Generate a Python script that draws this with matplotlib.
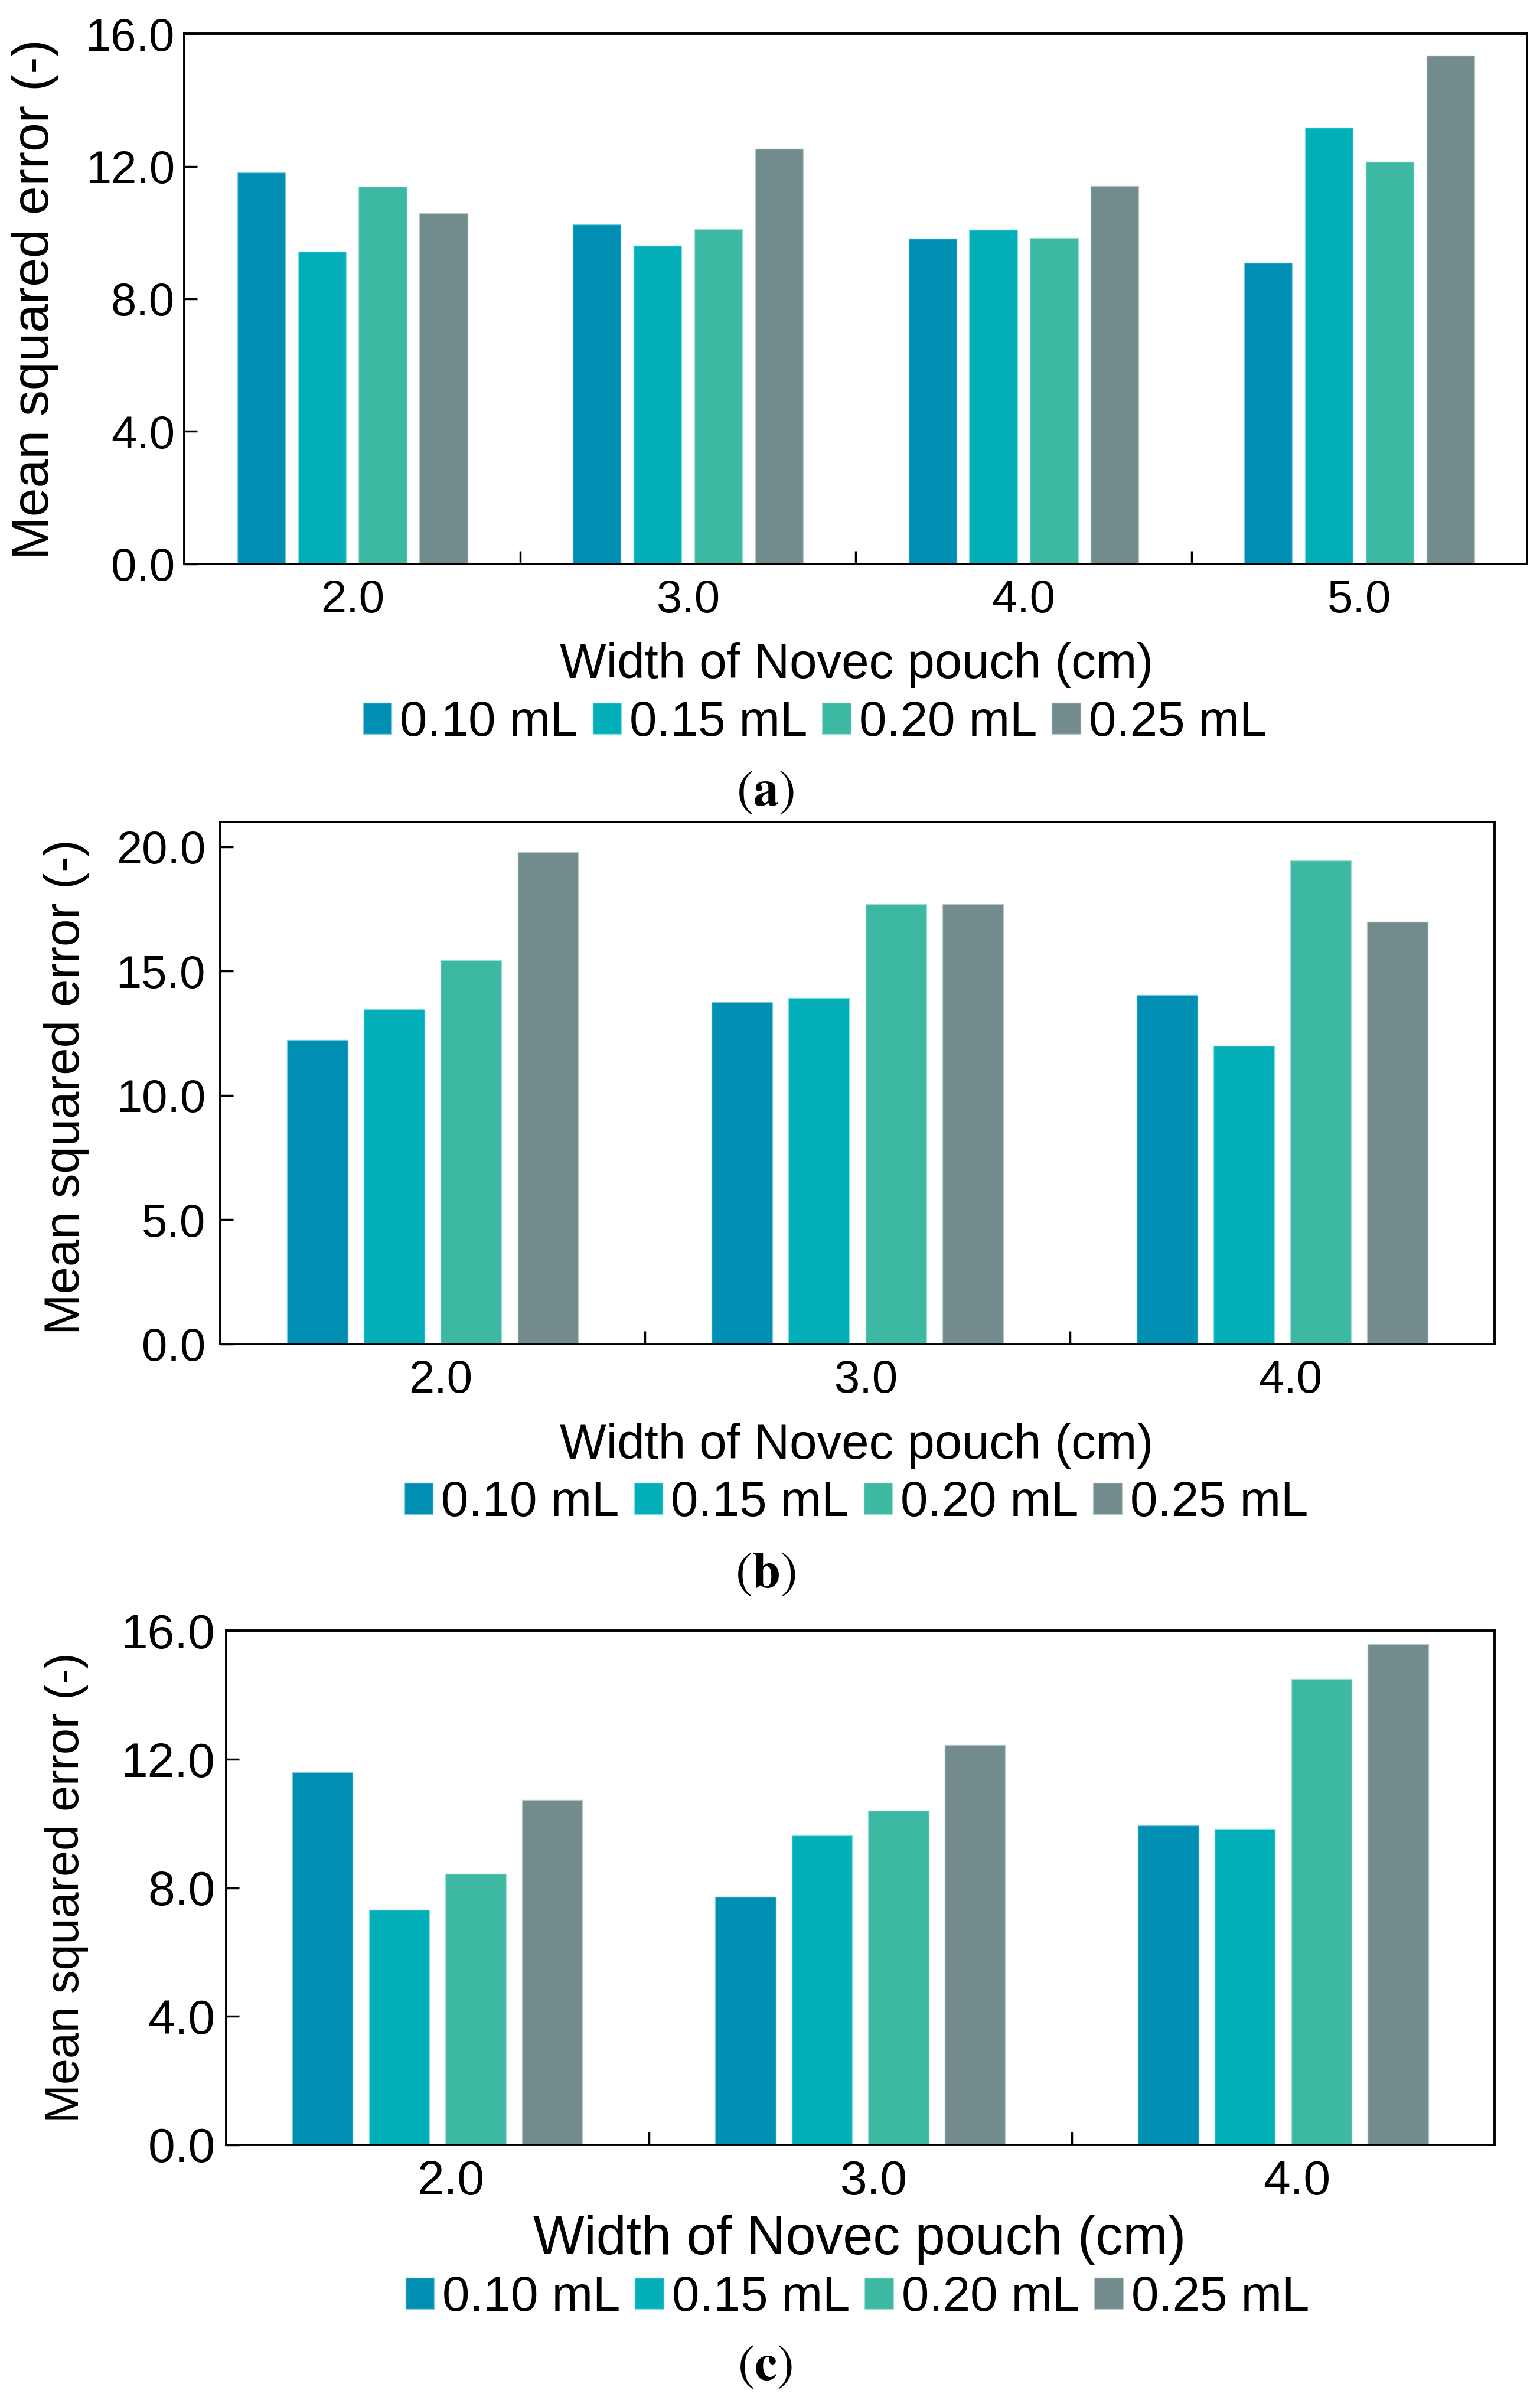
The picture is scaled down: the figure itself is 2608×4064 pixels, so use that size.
import numpy as np
import matplotlib
matplotlib.use('Agg')
import matplotlib.pyplot as plt
import matplotlib.transforms as mtransforms
from matplotlib.patches import Patch

plt.rcParams['font.family'] = ['Liberation Sans', 'DejaVu Sans']
plt.rcParams['mathtext.fontset'] = 'stix'

# données
volumes = ['0.10 mL', '0.15 mL', '0.20 mL', '0.25 mL']
colors = ['#008FB2', '#02AFB8', '#3DB8A2', '#728C8D']
edge_colors = ['#7FCCE0', '#7FE0E6', '#9EE0D0', '#B8C8C8']

widths_a = ['2.0', '3.0', '4.0', '5.0']
mse_a = [[11.82, 10.25, 9.82, 9.09],
         [9.43, 9.60, 10.08, 13.17],
         [11.39, 10.11, 9.83, 12.14],
         [10.58, 12.53, 11.40, 15.34]]

widths_b = ['2.0', '3.0', '4.0']
mse_b = [[12.23, 13.74, 14.02],
         [13.47, 13.91, 12.00],
         [15.42, 17.68, 19.45],
         [19.77, 17.68, 16.98]]

widths_c = ['2.0', '3.0', '4.0']
mse_c = [[11.60, 7.72, 9.94],
         [7.31, 9.63, 9.83],
         [8.43, 10.40, 14.50],
         [10.74, 12.45, 15.58]]

yticks_a = [0, 4, 8, 12, 16]
yticks_b = [0, 5, 10, 15, 20]
yticks_c = [0, 4, 8, 12, 16]

fig = plt.figure(figsize=(26.08, 40.64), dpi=100)

panels = [
    dict(rect=[0.1198, 0.7651, 0.8718, 0.2208], cats=widths_a, data=mse_a, ylim=16.0, yticks=yticks_a,
         tsize=56, ypad=12, xshift=0, yl=(0.023, 0.8752, 63), xl=(0.556, 0.7175, 60),
         leg=(0.5291, 0.6988), cap=(0.670, 'a')),
    dict(rect=[0.1430, 0.4400, 0.8275, 0.2176], cats=widths_b, data=mse_b, ylim=21.0, yticks=yticks_b,
         tsize=56, ypad=18, xshift=10, yl=(0.043, 0.547, 60), xl=(0.556, 0.3922, 60),
         leg=(0.556, 0.3738), cap=(0.344, 'b')),
    dict(rect=[0.1467, 0.1063, 0.8238, 0.2142], cats=widths_c, data=mse_c, ylim=16.0, yticks=yticks_c,
         tsize=59, ypad=13, xshift=17, yl=(0.043, 0.2135, 57), xl=(0.558, 0.0608, 66),
         leg=(0.5567, 0.0426), cap=(0.0138, 'c')),
]

bar_w = 0.143
step = 0.181

for p in panels:
    ax = fig.add_axes(p['rect'])
    n = len(p['cats'])
    x = np.arange(n)
    for i, vals in enumerate(p['data']):
        ax.bar(x + (i - 1.5) * step, vals, width=bar_w, color=colors[i],
               edgecolor=edge_colors[i], linewidth=1.0, zorder=2)
    ax.set_xlim(-0.5, n - 0.5)
    ax.set_ylim(0, p['ylim'])
    ax.set_xticks(x)
    ax.set_xticklabels(p['cats'])
    ax.set_xticks(np.arange(n - 1) + 0.5, minor=True)
    ax.set_yticks(p['yticks'])
    ax.set_yticklabels(['%.1f' % v for v in p['yticks']])
    ax.tick_params(axis='x', which='major', length=0, pad=18, labelsize=p['tsize'])
    ax.tick_params(axis='x', which='minor', direction='in', length=16, width=2.5)
    ax.tick_params(axis='y', which='major', direction='in', length=16, width=2.5,
                   pad=p['ypad'], labelsize=p['tsize'])
    # léger décalage des étiquettes comme sur l'original
    if p['xshift']:
        off = mtransforms.ScaledTranslation(p['xshift'] / 72, 0, fig.dpi_scale_trans)
        for lab in ax.get_xticklabels():
            lab.set_transform(lab.get_transform() + off)
    for s in ax.spines.values():
        s.set_linewidth(2.8)
        s.set_zorder(3)

    fig.text(p['yl'][0], p['yl'][1], 'Mean squared error (-)', rotation=90,
             ha='center', va='center', fontsize=p['yl'][2])
    fig.text(p['xl'][0], p['xl'][1], 'Width of Novec pouch (cm)',
             ha='center', va='baseline', fontsize=p['xl'][2])
    handles = [Patch(facecolor=colors[i], edgecolor=edge_colors[i], linewidth=1.0) for i in range(4)]
    fig.legend(handles, volumes, loc='center', bbox_to_anchor=p['leg'], ncol=4,
               frameon=False, fontsize=60, borderpad=0, borderaxespad=0,
               handlelength=0.58, handleheight=0.6, handletextpad=0.17,
               columnspacing=0.3)
    fig.text(0.497, p['cap'][0], r'$(\mathbf{%s})$' % p['cap'][1],
             ha='center', va='center', fontsize=62)

fig.savefig('out.png', dpi=100)
